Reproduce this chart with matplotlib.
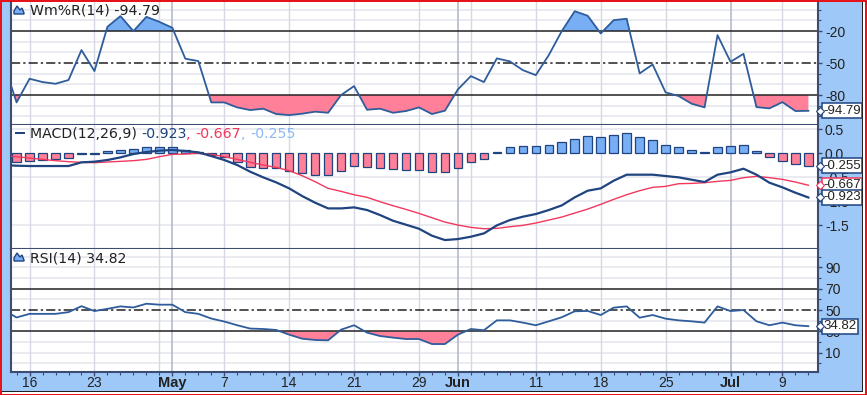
# -*- coding: utf-8 -*-
"""
plot.py - Williams %R, MACD and RSI panels, saved as out.png
"""

import matplotlib
matplotlib.use('Agg')
import matplotlib.pyplot as plt
from matplotlib.patches import Rectangle, Polygon


##--------------------##
# Data, first value of each line sits just left of the plot
##--------------------##

wmr = [-49.7, -86.9, -64.7, -67.8, -69.4, -65.9, -37.8, -57.5, -15.9, -5.9, -20, -6.6, -11.3, -16.9,
       -45.9, -48.1, -86.9, -86.9, -91.6, -94.1, -92.8, -97.8, -98.8, -97.5, -95.6, -96.6, -80, -71.6,
       -93.8, -92.8, -96.6, -95, -91.6, -97.8, -94.7, -74.7, -62.2, -67.8, -45.6, -48.4, -56.6, -61.3,
       -42.5, -20, -1.3, -5.6, -22.2, -9.7, -8.4, -59.7, -51.3, -77.5, -80.9, -88.1, -91.6, -23.8,
       -48.8, -41.3, -91.3, -92.5, -86.6, -95, -94.79]

macd = [-.244, -.258, -.265, -.265, -.265, -.265, -.188, -.174, -.139, -.084, -.014, .028, .056, .070,
        .049, .021, -.056, -.139, -.244, -.384, -.502, -.607, -.732, -.893, -1.032, -1.151, -1.151,
        -1.130, -1.185, -1.290, -1.409, -1.492, -1.576, -1.722, -1.813, -1.792, -1.743, -1.674, -1.506,
        -1.395, -1.325, -1.269, -1.185, -1.088, -.920, -.781, -.732, -.572, -.446, -.446, -.446, -.474,
        -.502, -.551, -.600, -.446, -.397, -.321, -.446, -.614, -.711, -.823, -.923]

signal = [-.049, -.070, -.098, -.126, -.153, -.174, -.188, -.195, -.181, -.167, -.153, -.126, -.070,
          -.021, -.014, 0, -.021, -.070, -.126, -.188, -.244, -.293, -.363, -.467, -.593, -.732,
          -.795, -.865, -.920, -1.011, -1.095, -1.172, -1.255, -1.346, -1.437, -1.499, -1.548, -1.576,
          -1.569, -1.534, -1.506, -1.457, -1.395, -1.332, -1.248, -1.165, -1.067, -.962, -.865, -.781,
          -.711, -.690, -.635, -.628, -.614, -.586, -.565, -.509, -.481, -.509, -.544, -.600, -.667]

hist = [-.174, -.153, -.139, -.119, -.091, -.007, -.007, .049, .070, .084, .126, .126, .126, .070, .021,
        -.028, -.070, -.174, -.279, -.300, -.300, -.363, -.418, -.453, -.453, -.370, -.265, -.279, -.314,
        -.328, -.349, -.349, -.384, -.384, -.300, -.188, -.112, .021, .126, .153, .153, .181, .230, .307,
        .370, .342, .391, .418, .335, .279, .181, .126, .070, .021, .126, .153, .181, .056, -.084, -.160,
        -.223, -.255]

rsi = [50, 43, 46.4, 46.4, 46.4, 48, 53.6, 49, 51.1, 53.4, 52.4, 55.9, 55, 55, 48, 46.4, 42, 39.2, 35.7,
       32.6, 32.2, 31.3, 26.9, 23.1, 21.9, 21.6, 31.6, 35.7, 28.8, 25.6, 24.1, 22.8, 22.8, 18.1, 18.1, 26.9,
       32.2, 31, 40.3, 40.3, 38.2, 35.7, 39.4, 43.2, 48.8, 49.1, 45.3, 52.2, 53.4, 42.8, 45.3, 41.9, 40.3,
       39.4, 38.2, 53.4, 49, 50, 39.4, 35.7, 38.2, 35.7, 34.82]

days = list(range(-1, 62))
tick_pos = [1, 6, 12, 16, 21, 26, 31, 34, 40, 45, 50, 55, 59]
tick_labels = ['16', '23', 'May', '7', '14', '21', '29', 'Jun', '11', '18', '25', 'Jul', '9']
grid_light = [1, 6, 11, 16, 21, 26, 31, 35, 40, 45, 50, 59]
grid_month = [12, 34, 55]
month_labels = ['May', 'Jun', 'Jul']

##--------------------##
# Colours and figure
##--------------------##

W, H = 867, 395
frame = '#9EC8F8'
border = '#3C4C72'
grid_col = '#E6E6EF'
vgrid_col = '#D6D8E4'
line_col = '#2F5C9A'
navy = '#1F4480'
red = '#F2385E'
pink = '#FF8098'
blue = '#78AEF4'

plt.rcParams['font.family'] = ['DejaVu Sans']
fig = plt.figure(figsize=(W / 100, H / 100), dpi=100, facecolor=frame)


def make_panel(top, bottom, ylim):
    ax = fig.add_axes([11 / W, 1 - bottom / H, (818 - 11) / W, (bottom - top) / H])
    ax.set_xlim(-0.43, 61.74)
    ax.set_ylim(*ylim)
    ax.set_xticks([])
    ax.yaxis.tick_right()
    ax.spines['top'].set_visible(False)
    for s in ['left', 'right', 'bottom']:
        ax.spines[s].set_color(border)
        ax.spines[s].set_linewidth(1.5)
    ax.tick_params(axis='y', which='major', length=3, width=1, color=border, pad=2,
                   labelsize=10, labelcolor='#222222', labelfontfamily='Liberation Sans')
    ax.tick_params(axis='y', which='minor', length=2, width=0.8, color=border)
    for d in grid_light:
        ax.axvline(d, color=vgrid_col, lw=1, zorder=1)
    for d in grid_month:
        ax.axvline(d, color='#B0B5C6', lw=1.1, zorder=1)
    return ax


def hlines(ax, light, low, mid, high):
    for v in light:
        ax.axhline(v, color=grid_col, lw=1.2, zorder=0.5)
    for v in (low, high):
        ax.axhline(v, color='#222222', lw=1.1, zorder=2.2)
    ax.axhline(mid, color='#222222', lw=1.1, ls=(0, (6, 2, 1.5, 2)), zorder=2.2)


def value_box(ax, y, txt, edge):
    # value tag sits in the right frame
    ax.text(1 + 5.5 / 807, y, txt, transform=ax.get_yaxis_transform(), va='center', ha='left',
            fontsize=9.5, family='Liberation Sans', color='#222222', zorder=20, clip_on=False,
            bbox=dict(boxstyle='square,pad=0.1', fc='white', ec=edge, lw=1.1))
    ax.plot([1 + 2 / 807], [y], marker='D', ms=4, mfc='white', mec=edge, mew=0.8,
            transform=ax.get_yaxis_transform(), clip_on=False, zorder=21)


def icon(ax, px_y):
    # small line-chart icon beside the panel title
    x0, y0 = 14, px_y
    pts = [(0, 9), (0, 6), (3, 1), (6, 5), (8, 3), (10, 8), (10, 9)]
    fig.add_artist(Polygon([((x0 + a) / W, 1 - (y0 + b) / H) for a, b in pts], closed=True,
                           fc=blue, ec=navy, lw=1, zorder=10))


def title(ax, px_y, parts, x=29.5):
    fs = 10.2
    t = None
    for txt, col in parts:
        if t is None:
            t = fig.text(x / W, 1 - px_y / H, txt, color=col, fontsize=fs, va='center', zorder=10)
        else:
            t = ax.annotate(txt, xy=(1, 0.5), xycoords=t, xytext=(0, 0), textcoords='offset points',
                            color=col, fontsize=fs, va='center', zorder=10, annotation_clip=False)


##--------------------##
# Williams %R
##--------------------##

ax1 = make_panel(1.5, 125, (-108.1, 7.8))
hlines(ax1, [0, -10, -30, -40, -60, -70, -90, -100], -80, -50, -20)
ax1.fill_between(days, wmr, -20, where=[v >= -20 for v in wmr], interpolate=True, color=blue, lw=0, zorder=2)
ax1.fill_between(days, wmr, -80, where=[v <= -80 for v in wmr], interpolate=True, color=pink, lw=0, zorder=2)
ax1.plot(days, wmr, color=line_col, lw=1.3, zorder=3)
ax1.set_yticks([-20, -50, -80], labels=['-20', '-50', '-80'])
ax1.set_yticks(list(range(-100, 10, 10)), minor=True)
value_box(ax1, wmr[-1], '-94.79', navy)
icon(ax1, 5)
title(ax1, 10, [('Wm%R(14) -94.79', '#222222')])

##--------------------##
# MACD
##--------------------##

ax2 = make_panel(125, 249, (-2.0, 0.593))
for v in [0.5, -0.5, -1.0, -1.5]:
    ax2.axhline(v, color=grid_col, lw=1.2, zorder=0.5)
bar_days = days[1:]
bar_cols = [blue if v > 0 else pink for v in hist]
ax2.bar(bar_days, hist, width=0.66, color=bar_cols, edgecolor=navy, lw=0.9, zorder=2)
ax2.plot(days, signal, color=red, lw=1, zorder=3)
ax2.plot(days, macd, color=navy, lw=1.6, zorder=4)
ax2.set_yticks([0.5, 0, -0.5, -1.0, -1.5], labels=['0.5', '0.0', '-0.5', '-1.0', '-1.5'])
value_box(ax2, hist[-1], '-0.255', navy)
value_box(ax2, signal[-1], '-0.667', red)
value_box(ax2, macd[-1], '-0.923', navy)
fig.add_artist(Rectangle((15 / W, 1 - 134 / H), 10 / W, 2 / H, fc=navy, ec='none', zorder=10))
title(ax2, 133.5, [('MACD(12,26,9) ', '#222222'), ('-0.923', navy), (', ', red), ('-0.667', red),
                   (', ', '#8DB8F0'), ('-0.255', '#8DB8F0')])

##--------------------##
# RSI
##--------------------##

ax3 = make_panel(249, 372.3, (-8.4, 107.2))
hlines(ax3, [100, 90, 80, 60, 40, 20, 10, 0], 30, 50, 70)
ax3.fill_between(days, rsi, 30, where=[v <= 30 for v in rsi], interpolate=True, color=pink, lw=0, zorder=2)
ax3.plot(days, rsi, color=line_col, lw=1.3, zorder=3)
ax3.set_yticks([90, 70, 50, 30, 10], labels=['90', '70', '50', '30', '10'])
ax3.set_yticks(list(range(0, 110, 10)), minor=True)
value_box(ax3, rsi[-1], '34.82', navy)
icon(ax3, 252)
title(ax3, 258, [('RSI(14) 34.82', '#222222')])

# date axis along the bottom panel
ax3.set_xticks(tick_pos, labels=tick_labels, fontfamily='Liberation Sans', fontsize=10, color='#222222')
ax3.set_xticks(days[1:], minor=True)
ax3.tick_params(axis='x', which='major', length=3, width=1, color=border, pad=0)
ax3.tick_params(axis='x', which='minor', length=2, width=0.8, color=border)
for lab in ax3.get_xticklabels():
    if lab.get_text() in month_labels:
        lab.set_fontweight('bold')
        lab.set_fontsize(10.5)

##--------------------##
# Outer frame
##--------------------##

fig.add_artist(Rectangle((0.5 / W, 0.5 / H), 865.5 / W, 393.5 / H, fc='none', ec='#EE0000', lw=1.3, zorder=30))
fig.add_artist(Rectangle((1.5 / W, 3 / H), 861 / W, 1.2 / H, fc='#222222', ec='none', zorder=29))
fig.add_artist(Rectangle((862 / W, 3 / H), 1.2 / W, 390 / H, fc='#222222', ec='none', zorder=29))
fig.add_artist(Rectangle((1.5 / W, 1.5 / H), 863 / W, 1.5 / H, fc='white', ec='none', zorder=28))
fig.add_artist(Rectangle((863.2 / W, 1.5 / H), 2 / W, 392 / H, fc='white', ec='none', zorder=28))

fig.savefig('out.png', dpi=100, facecolor=fig.get_facecolor())
